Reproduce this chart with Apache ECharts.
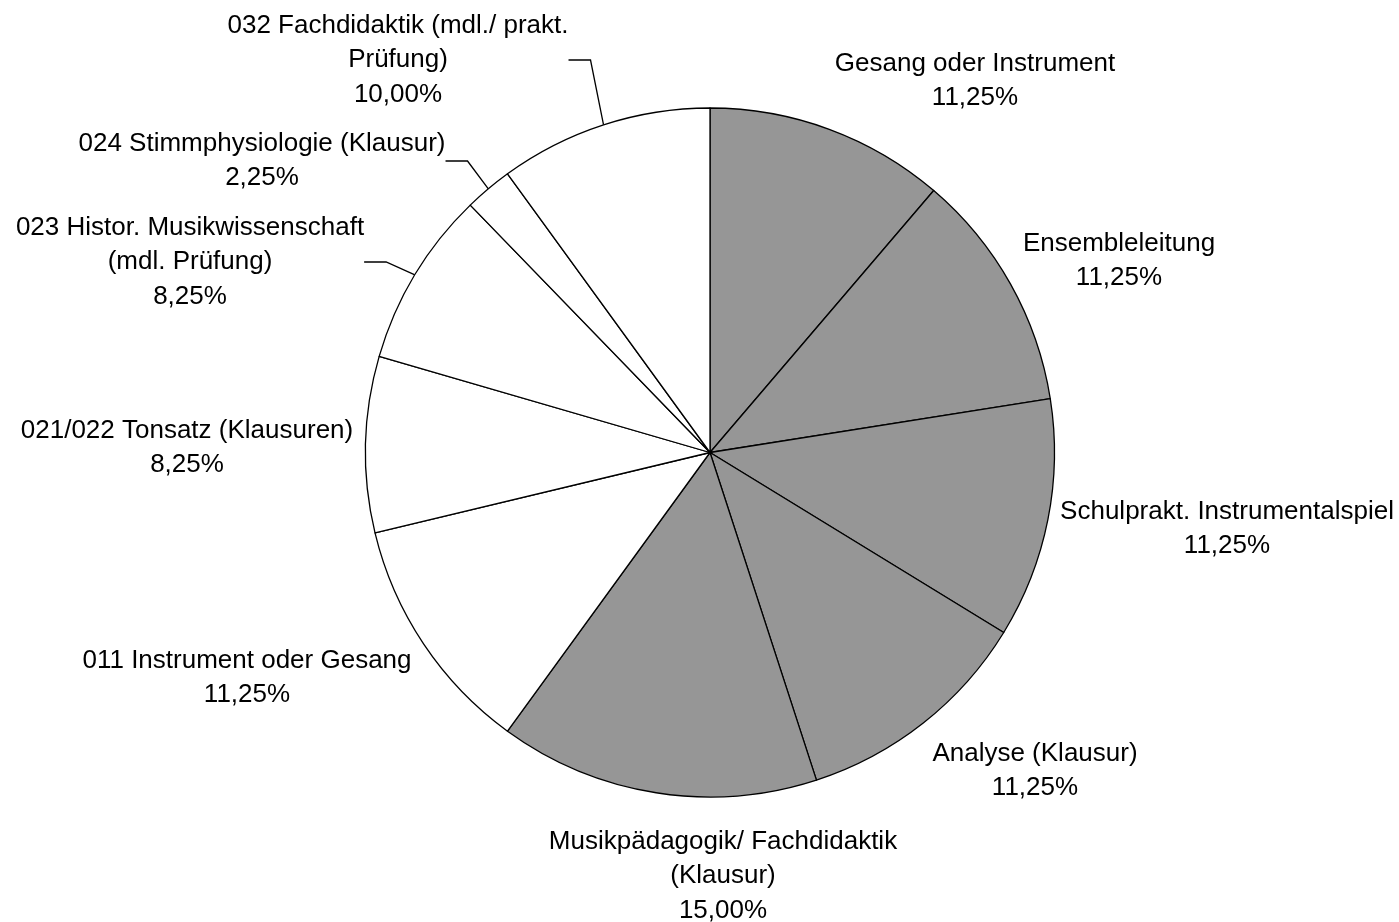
<!DOCTYPE html>
<html>
<head>
<meta charset="utf-8">
<script src="https://cdn.jsdelivr.net/npm/echarts@6/dist/echarts.min.js"></script>
<style>
html, body { margin: 0; padding: 0; background: #fff; }
#chart { width: 1399px; height: 922px; }
</style>
</head>
<body>
<div id="chart"></div>
<script>
// slices, clockwise from 12 o'clock
const categories = [
    'Gesang oder Instrument',
    'Ensembleleitung',
    'Schulprakt. Instrumentalspiel',
    'Analyse (Klausur)',
    'Musikpädagogik/ Fachdidaktik\n(Klausur)',
    '011 Instrument oder Gesang',
    '021/022 Tonsatz (Klausuren)',
    '023 Histor. Musikwissenschaft\n(mdl. Prüfung)',
    '024 Stimmphysiologie (Klausur)',
    '032 Fachdidaktik (mdl./ prakt.\nPrüfung)'
];
const shares = [11.25, 11.25, 11.25, 11.25, 15.00, 11.25, 8.25, 8.25, 2.25, 10.00];
const grayCount = 5; // first five slices are filled grey

// where the labels sit (centre of text block, px) and which get a leader line
const labelCenters = [
    [975, 81], [1119, 261], [1227, 529], [1035, 771], [723, 876],
    [247, 678], [187, 448], [190, 262], [262, 161], [398, 60]
];
const leaderLines = [false, false, false, false, false, false, false, true, true, true];

let chart = echarts.init(document.getElementById('chart'));

let option = {
    backgroundColor: '#fff',
    animation: false,
    series: [
        {
            type: 'pie',
            center: [710, 452.5],
            radius: 344.5,
            startAngle: 90,
            clockwise: true,
            avoidLabelOverlap: false,
            data: categories.map((name, i) => ({
                name: name,
                value: shares[i],
                itemStyle: { color: i < grayCount ? '#969696' : '#ffffff' },
                labelLine: { show: leaderLines[i] }
            })),
            itemStyle: {
                borderColor: '#000',
                borderWidth: 1.3
            },
            label: {
                position: 'outside',
                formatter: p => p.name + '\n' + p.value.toFixed(2).replace('.', ',') + '%',
                fontFamily: 'Liberation Sans, Arial, sans-serif',
                fontSize: 26,
                lineHeight: 34.5,
                color: '#000',
                overflow: 'none'
            },
            labelLine: {
                length: 10,
                length2: 22,
                lineStyle: { color: '#000', width: 1.3 }
            },
            labelLayout: p => ({
                x: labelCenters[p.dataIndex][0],
                y: labelCenters[p.dataIndex][1],
                align: 'center',
                verticalAlign: 'middle'
            }),
            emphasis: { disabled: true }
        }
    ]
};
chart.setOption(option);
</script>
</body>
</html>
